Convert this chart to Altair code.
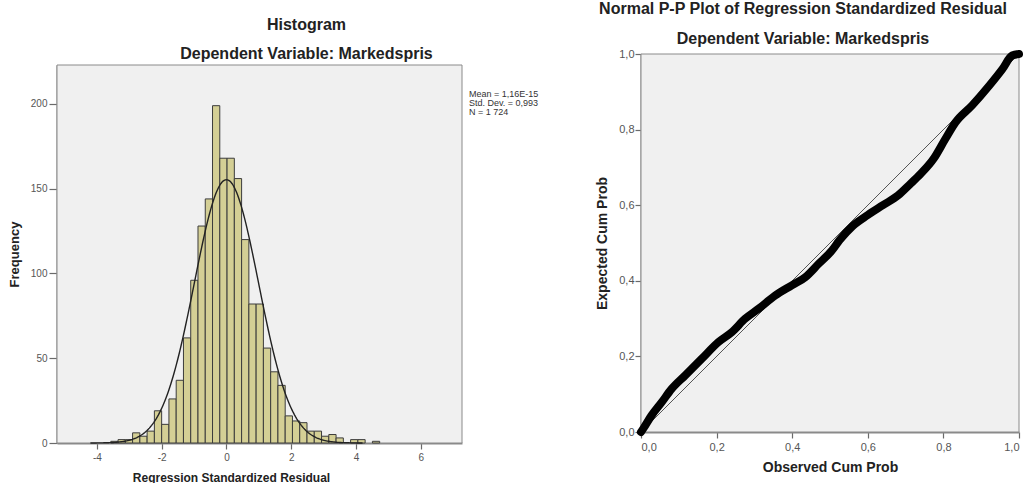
import altair as alt
import numpy as np
import pandas as pd

FONT = "Liberation Sans"

# ---- Histogram of regression standardized residuals ----
BIN_START = -3.57
BIN_WIDTH = 0.2243
counts = [1, 2, 2, 6, 4, 7, 19, 11, 26, 37, 62, 96, 128, 144, 199, 168, 168,
          156, 120, 82, 82, 56, 42, 34, 16, 13, 12, 7, 7, 4, 5, 3, 0, 2, 2, 0, 1]

MEAN = 1.16e-15
SD = 0.993
N = 1724
stats_lines = ["Mean = 1,16E-15", "Std. Dev. = 0,993", "N = 1 724"]

hist_x_domain = [-5.23, 7.27]
hist_y_domain = [0, 223]
hist_x_ticks = [-4, -2, 0, 2, 4, 6]
hist_y_ticks = [0, 50, 100, 150, 200]

# ---- Normal P-P plot ----
observed = [0.0, 0.006, 0.028, 0.055, 0.081, 0.117, 0.161, 0.205, 0.240, 0.276,
            0.311, 0.355, 0.399, 0.435, 0.470, 0.505, 0.525, 0.560, 0.600, 0.640,
            0.680, 0.710, 0.740, 0.775, 0.805, 0.832, 0.876, 0.921, 0.956, 0.982, 1.0]
expected = [0.0, 0.009, 0.044, 0.079, 0.114, 0.150, 0.194, 0.238, 0.264, 0.300,
            0.326, 0.361, 0.388, 0.410, 0.445, 0.480, 0.507, 0.545, 0.574, 0.600,
            0.626, 0.654, 0.683, 0.724, 0.775, 0.819, 0.864, 0.916, 0.960, 0.996, 1.0]
pp_domain = [0.0, 1.0]
pp_ticks = [0.0, 0.2, 0.4, 0.6, 0.8, 1.0]

# ---- tables ----
hist_df = pd.DataFrame({
    "x0": [BIN_START + i * BIN_WIDTH for i in range(len(counts))],
    "count": counts,
})
hist_df["x1"] = hist_df["x0"] + BIN_WIDTH
hist_df["base"] = 0
hist_df = hist_df[hist_df["count"] > 0]

# expected normal frequency curve from the stated mean, sd and N
xs = np.linspace(-4.2, 4.2, 241)
curve_df = pd.DataFrame({
    "x": xs,
    "y": N * BIN_WIDTH / (SD * np.sqrt(2 * np.pi)) * np.exp(-0.5 * ((xs - MEAN) / SD) ** 2),
})

pp_df = pd.DataFrame({"observed": observed, "expected": expected})
diag_df = pd.DataFrame({"p": pp_domain})

hist_frame_df = pd.DataFrame({"x0": [hist_x_domain[0]], "x1": [hist_x_domain[1]],
                              "y0": [hist_y_domain[0]], "y1": [hist_y_domain[1]]})
pp_frame_df = pd.DataFrame({"x0": [pp_domain[0]], "x1": [pp_domain[1]],
                            "y0": [pp_domain[0]], "y1": [pp_domain[1]]})

# ---- styles ----
axis_common = dict(
    domainColor="#8a8a8a", domainWidth=2, tickColor="#6a6a6a", tickWidth=1.2,
    labelColor="#555555", labelFont=FONT, titleFont=FONT, titleFontWeight="bold",
    titleColor="#222222", grid=False,
)
frame_style = dict(fill="#F0F0F0", stroke="#8a8a8a", strokeWidth=1)

HIST_W, HIST_H, HIST_TOP = 405, 378, 11   # plot box sits HIST_TOP px below the view top
x_scale = alt.Scale(domain=hist_x_domain, nice=False, zero=False)
y_scale = alt.Scale(domain=hist_y_domain, nice=False, range=[HIST_H + HIST_TOP, HIST_TOP])

hist_frame = alt.Chart(hist_frame_df).mark_rect(**frame_style).encode(
    x=alt.X("x0:Q", scale=x_scale, axis=alt.Axis(
        values=hist_x_ticks, title="Regression Standardized Residual",
        labelExpr="'' + datum.value", tickSize=6, labelPadding=3,
        labelFontSize=10, titleFontSize=12, titlePadding=10, titleX=174,
        **axis_common)),
    x2="x1:Q",
    y=alt.Y("y0:Q", scale=y_scale, axis=alt.Axis(
        values=hist_y_ticks, title="Frequency", tickSize=8, labelPadding=2,
        labelFontSize=10, titleFontSize=13, titlePadding=9, **axis_common)),
    y2="y1:Q",
)

bars = alt.Chart(hist_df).mark_rect(
    fill="#D4CF95", stroke="#3c3c3c", strokeWidth=1
).encode(
    x=alt.X("x0:Q", scale=x_scale),
    x2="x1:Q",
    y=alt.Y("count:Q", scale=y_scale),
    y2="base:Q",
)

curve = alt.Chart(curve_df).mark_line(color="#222222", strokeWidth=1.4).encode(
    x=alt.X("x:Q", scale=x_scale),
    y=alt.Y("y:Q", scale=y_scale),
)

stats = alt.Chart(pd.DataFrame({"k": [0]})).mark_text(
    text=stats_lines, align="left", baseline="top", font=FONT, fontSize=9,
    lineHeight=9, color="#333333",
).encode(x=alt.value(HIST_W + 7), y=alt.value(HIST_TOP + 25))

hist = alt.layer(hist_frame, bars, curve, stats).properties(
    width=HIST_W, height=HIST_H + HIST_TOP,
    title=alt.TitleParams(
        text="Histogram", subtitle="Dependent Variable: Markedspris",
        font=FONT, subtitleFont=FONT, fontSize=16, subtitleFontSize=16,
        fontWeight="bold", subtitleFontWeight="bold", color="#222222",
        subtitleColor="#222222", lineHeight=16, subtitleLineHeight=16,
        subtitlePadding=13, offset=-8, anchor="middle", frame="group", dx=47,
    ),
)

pp_scale = alt.Scale(domain=pp_domain, nice=False)
pp_label = "replace(format(datum.value, '.1f'), '.', ',')"

pp_frame = alt.Chart(pp_frame_df).mark_rect(**frame_style).encode(
    x=alt.X("x0:Q", scale=pp_scale, axis=alt.Axis(
        values=pp_ticks, title="Observed Cum Prob", labelExpr=pp_label,
        tickSize=6, labelPadding=3, labelFontSize=11, titleFontSize=14,
        titlePadding=8, **axis_common)),
    x2="x1:Q",
    y=alt.Y("y0:Q", scale=pp_scale, axis=alt.Axis(
        values=pp_ticks, title="Expected Cum Prob", labelExpr=pp_label,
        tickSize=6, labelPadding=1, labelFontSize=11, titleFontSize=14,
        titlePadding=9, **axis_common)),
    y2="y1:Q",
)

diag = alt.Chart(diag_df).mark_line(color="#555555", strokeWidth=1).encode(
    x=alt.X("p:Q", scale=pp_scale),
    y=alt.Y("p:Q", scale=pp_scale),
)

pp_line = alt.Chart(pp_df).mark_line(
    color="#000000", strokeWidth=8, strokeCap="round", strokeJoin="round",
    interpolate="monotone",
).encode(
    x=alt.X("observed:Q", scale=pp_scale),
    y=alt.Y("expected:Q", scale=pp_scale),
)

pp = alt.layer(pp_frame, diag, pp_line).properties(
    width=378, height=378,
    title=alt.TitleParams(
        text="Normal P-P Plot of Regression Standardized Residual",
        subtitle="Dependent Variable: Markedspris",
        font=FONT, subtitleFont=FONT, fontSize=16, subtitleFontSize=16,
        fontWeight="bold", subtitleFontWeight="bold", color="#222222",
        subtitleColor="#222222", lineHeight=16, subtitleLineHeight=16,
        subtitlePadding=14, offset=1, anchor="middle", frame="group", dx=-27,
    ),
)

chart = alt.hconcat(hist, pp, spacing=56).properties(
    padding={"left": 8, "top": 1, "right": 0, "bottom": 0},
    background="white",
).configure_view(stroke=None)

chart.save("out.html", embed_options={"renderer": "svg", "actions": False})
